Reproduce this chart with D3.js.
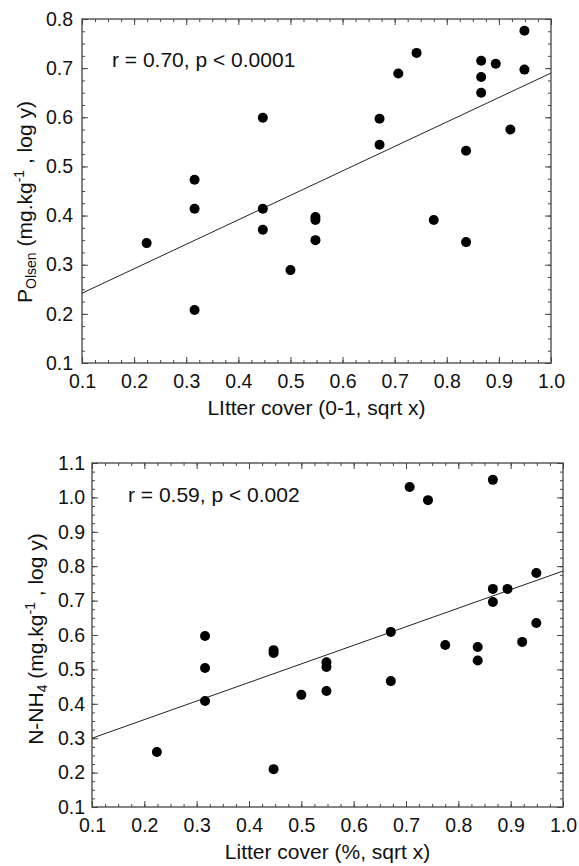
<!DOCTYPE html>
<html>
<head>
<meta charset="utf-8">
<script src="https://cdn.jsdelivr.net/npm/d3@7"></script>
<style>
body { margin: 0; background: #fff; }
text { font-family: "Liberation Sans", Arial, sans-serif; fill: #111; }
</style>
</head>
<body>
<svg id="chart" width="579" height="866"></svg>
<script>
// litter cover (sqrt) vs P Olsen (log)
var litterTop = [0.224, 0.316, 0.316, 0.316, 0.447, 0.447, 0.447, 0.5, 0.548, 0.548, 0.548, 0.671, 0.671,
                 0.707, 0.742, 0.775, 0.837, 0.837, 0.866, 0.866, 0.866, 0.894, 0.922, 0.949, 0.949];
var pOlsen = [0.344, 0.473, 0.414, 0.208, 0.599, 0.414, 0.371, 0.289, 0.397, 0.391, 0.350, 0.597, 0.544,
              0.689, 0.731, 0.391, 0.532, 0.346, 0.715, 0.682, 0.650, 0.709, 0.575, 0.776, 0.697];

// litter cover (sqrt) vs N-NH4 (log)
var litterBottom = [0.224, 0.316, 0.316, 0.316, 0.447, 0.447, 0.447, 0.5, 0.548, 0.548, 0.548, 0.671, 0.671,
                    0.707, 0.742, 0.775, 0.837, 0.837, 0.866, 0.866, 0.866, 0.894, 0.922, 0.949, 0.949];
var nNH4 = [0.260, 0.597, 0.504, 0.408, 0.556, 0.548, 0.210, 0.426, 0.521, 0.507, 0.437, 0.609, 0.466,
            1.030, 0.992, 0.571, 0.565, 0.526, 1.051, 0.734, 0.696, 0.734, 0.580, 0.780, 0.635];

var xTicks = [0.1, 0.2, 0.3, 0.4, 0.5, 0.6, 0.7, 0.8, 0.9, 1.0];
var yTicksTop = [0.1, 0.2, 0.3, 0.4, 0.5, 0.6, 0.7, 0.8];
var yTicksBottom = [0.1, 0.2, 0.3, 0.4, 0.5, 0.6, 0.7, 0.8, 0.9, 1.0, 1.1];

// regression line, value at x = 0.1 and x = 1.0
var fitTop = [0.242, 0.690];
var fitBottom = [0.300, 0.786];

var statTop = "r = 0.70, p < 0.0001";
var statBottom = "r = 0.59, p < 0.002";

var svg = d3.select("#chart");
var fmt = d3.format(".1f");

function panel(opt) {
  var w = opt.width, h = opt.height;
  var g = svg.append("g").attr("transform", "translate(" + opt.left + "," + opt.top + ")");

  var x = d3.scaleLinear().domain([0.1, 1.0]).range([0, w]);
  var y = d3.scaleLinear().domain([opt.yTicks[0], opt.yTicks[opt.yTicks.length - 1]]).range([h, 0]);

  var xMinor = d3.range(0, 37).map(function(i) { return 0.1 + i * 0.025; });
  var yMinor = d3.range(0, (opt.yTicks.length - 1) * 4 + 1).map(function(i) { return opt.yTicks[0] + i * 0.025; });

  function tidy(sel) {
    sel.select(".domain").remove();
    sel.selectAll("line").attr("stroke", "#444").attr("stroke-width", 1);
  }

  // minor ticks, all four sides
  g.append("g").attr("transform", "translate(0," + h + ")")
    .call(d3.axisBottom(x).tickValues(xMinor).tickSize(-3).tickFormat("")).call(tidy);
  g.append("g")
    .call(d3.axisTop(x).tickValues(xMinor).tickSize(-3).tickFormat("")).call(tidy);
  g.append("g")
    .call(d3.axisLeft(y).tickValues(yMinor).tickSize(-3).tickFormat("")).call(tidy);
  g.append("g").attr("transform", "translate(" + w + ",0)")
    .call(d3.axisRight(y).tickValues(yMinor).tickSize(-3).tickFormat("")).call(tidy);

  // major ticks
  var xa = g.append("g").attr("transform", "translate(0," + h + ")")
    .call(d3.axisBottom(x).tickValues(xTicks).tickSize(-6).tickPadding(11).tickFormat(fmt)).call(tidy);
  g.append("g")
    .call(d3.axisTop(x).tickValues(xTicks).tickSize(-6).tickFormat("")).call(tidy);
  var ya = g.append("g")
    .call(d3.axisLeft(y).tickValues(opt.yTicks).tickSize(-6).tickPadding(opt.yPad).tickFormat(fmt)).call(tidy);
  g.append("g").attr("transform", "translate(" + w + ",0)")
    .call(d3.axisRight(y).tickValues(opt.yTicks).tickSize(-6).tickFormat("")).call(tidy);

  [xa, ya].forEach(function(a) {
    a.selectAll("text").style("font-family", "'Liberation Sans', Arial, sans-serif")
      .style("font-size", "19.5px").attr("fill", "#111");
  });

  g.append("rect").attr("width", w).attr("height", h)
    .attr("fill", "none").attr("stroke", "#444").attr("stroke-width", 1.3);

  // fit line
  var line = d3.line().x(function(d) { return x(d[0]); }).y(function(d) { return y(d[1]); });
  g.append("path").datum([[0.1, opt.fit[0]], [1.0, opt.fit[1]]])
    .attr("d", line).attr("fill", "none").attr("stroke", "#222").attr("stroke-width", 1);

  var pts = opt.xs.map(function(v, i) { return [v, opt.ys[i]]; });
  g.selectAll("circle.pt").data(pts).enter().append("circle")
    .attr("class", "pt")
    .attr("cx", function(d) { return x(d[0]); })
    .attr("cy", function(d) { return y(d[1]); })
    .attr("r", 5).attr("fill", "#000");

  g.append("text").attr("x", opt.statX).attr("y", opt.statY)
    .style("font-size", "21px").text(opt.stat);

  g.append("text").attr("x", w / 2).attr("y", h + opt.xTitleDy)
    .attr("text-anchor", "middle").style("font-size", "21px").text(opt.xTitle);

  var yt = svg.append("text")
    .attr("transform", "translate(" + opt.yTitleX + "," + opt.yTitleY + ") rotate(-90)")
    .attr("text-anchor", "middle").style("font-size", "21px");
  opt.yTitle.forEach(function(p) {
    var t = yt.append("tspan").text(p[0]);
    if (p[1] === "sub") t.style("font-size", "14px").attr("dy", 4);
    if (p[1] === "sup") t.style("font-size", "14px").attr("dy", -8);
    if (p[1] === "back-sub") t.attr("dy", -4);
    if (p[1] === "back-sup") t.attr("dy", 8);
  });
}

panel({
  left: 82, top: 19, width: 469, height: 344,
  xs: litterTop, ys: pOlsen, yTicks: yTicksTop, yPad: 9,
  fit: fitTop, stat: statTop, statX: 30, statY: 48,
  xTitle: "LItter cover (0-1, sqrt x)", xTitleDy: 52,
  yTitleX: 32, yTitleY: 202,
  yTitle: [["P", ""], ["Olsen", "sub"], [" (mg.kg", "back-sub"], ["-1", "sup"], [" , log y)", "back-sup"]]
});

panel({
  left: 92, top: 463, width: 471, height: 344,
  xs: litterBottom, ys: nNH4, yTicks: yTicksBottom, yPad: 7,
  fit: fitBottom, stat: statBottom, statX: 36, statY: 39,
  xTitle: "Litter cover (%, sqrt x)", xTitleDy: 52,
  yTitleX: 43, yTitleY: 639,
  yTitle: [["N-NH", ""], ["4", "sub"], [" (mg.kg", "back-sub"], ["-1", "sup"], [" , log y)", "back-sup"]]
});
</script>
</body>
</html>
